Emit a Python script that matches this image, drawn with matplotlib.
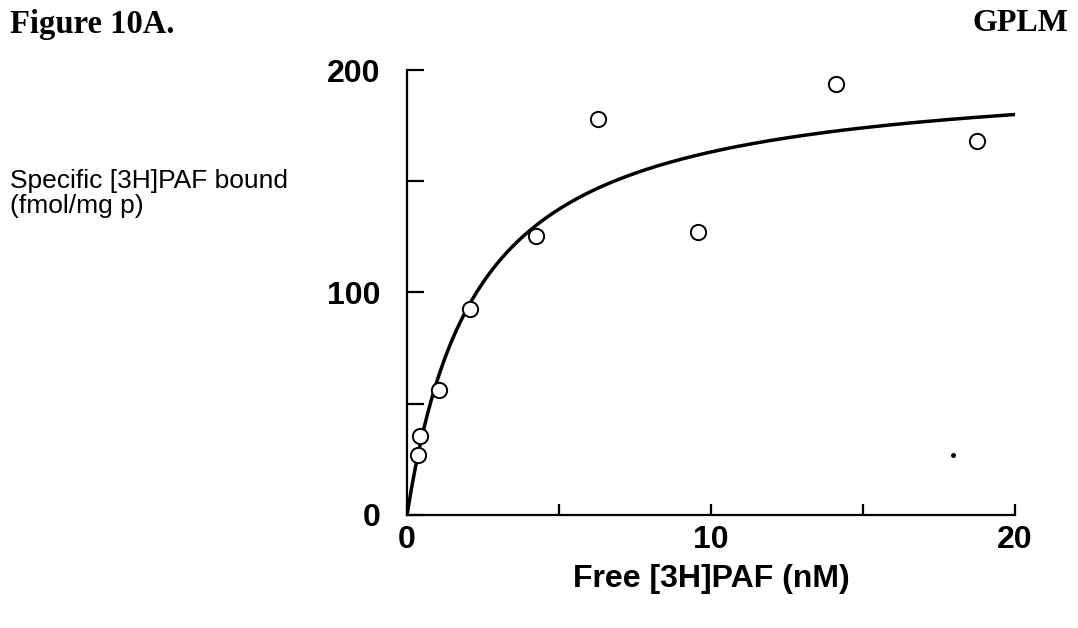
import numpy as np
import matplotlib
matplotlib.use("Agg")
import matplotlib.pyplot as plt

# binding data
free_nM = [0.36, 0.43, 1.05, 2.07, 4.24, 6.28, 9.57, 14.1, 18.75]
bound = [27, 35.5, 56, 92.5, 125.5, 178, 127, 193.5, 168]

# fitted saturation curve parameters (one-site)
bmax = 200.7
kd = 2.3

# stray speck on the scan
speck_x = [17.96]
speck_y = [27]

x_ticks = [0, 5, 10, 15, 20]
x_labels = ["0", "", "10", "", "20"]
y_ticks = [0, 50, 100, 150, 200]
y_labels = ["0", "", "100", "", "200"]


def main():
    fig = plt.figure(figsize=(10.78, 6.28), dpi=100)
    ax = fig.add_axes([0.3776, 0.180, 0.564, 0.7085])

    xs = np.linspace(0, 20, 300)
    ax.plot(xs, bmax * xs / (kd + xs), color="black", lw=2.5, solid_capstyle="round")
    ax.plot(free_nM, bound, "o", mfc="white", mec="black", ms=11, mew=1.4)
    ax.plot(speck_x, speck_y, "o", color="black", ms=2.5)

    ax.set_xlim(0, 20)
    ax.set_ylim(0, 200)
    ax.set_xticks(x_ticks)
    ax.set_xticklabels(x_labels)
    ax.set_yticks(y_ticks)
    ax.set_yticklabels(y_labels)
    for lab in ax.get_xticklabels() + ax.get_yticklabels():
        lab.set_fontfamily("Liberation Sans")
        lab.set_fontweight("bold")
        lab.set_fontsize(23)

    ax.spines["right"].set_visible(False)
    ax.spines["top"].set_visible(False)
    ax.spines["left"].set_linewidth(1.6)
    ax.spines["bottom"].set_linewidth(1.6)
    ax.tick_params(axis="x", direction="in", length=8, width=1.6, pad=7)
    ax.tick_params(axis="y", direction="in", length=12, width=1.6, pad=19)

    ax.set_xlabel("Free [3H]PAF (nM)", fontfamily="Liberation Sans",
                  fontweight="bold", fontsize=23, labelpad=7)

    fig.text(0.009, 0.692, "Specific [3H]PAF bound\n(fmol/mg p)",
             fontfamily="Liberation Sans", fontsize=19, va="center",
             ha="left", linespacing=1.05)
    fig.text(0.009, 0.985, "Figure 10A.", fontfamily="Liberation Serif",
             fontweight="bold", fontsize=23.5, va="top", ha="left")
    fig.text(0.991, 0.985, "GPLM", fontfamily="Liberation Serif",
             fontweight="bold", fontsize=23, va="top", ha="right")

    fig.savefig("out.png", dpi=100, facecolor="white")


if __name__ == "__main__":
    main()
